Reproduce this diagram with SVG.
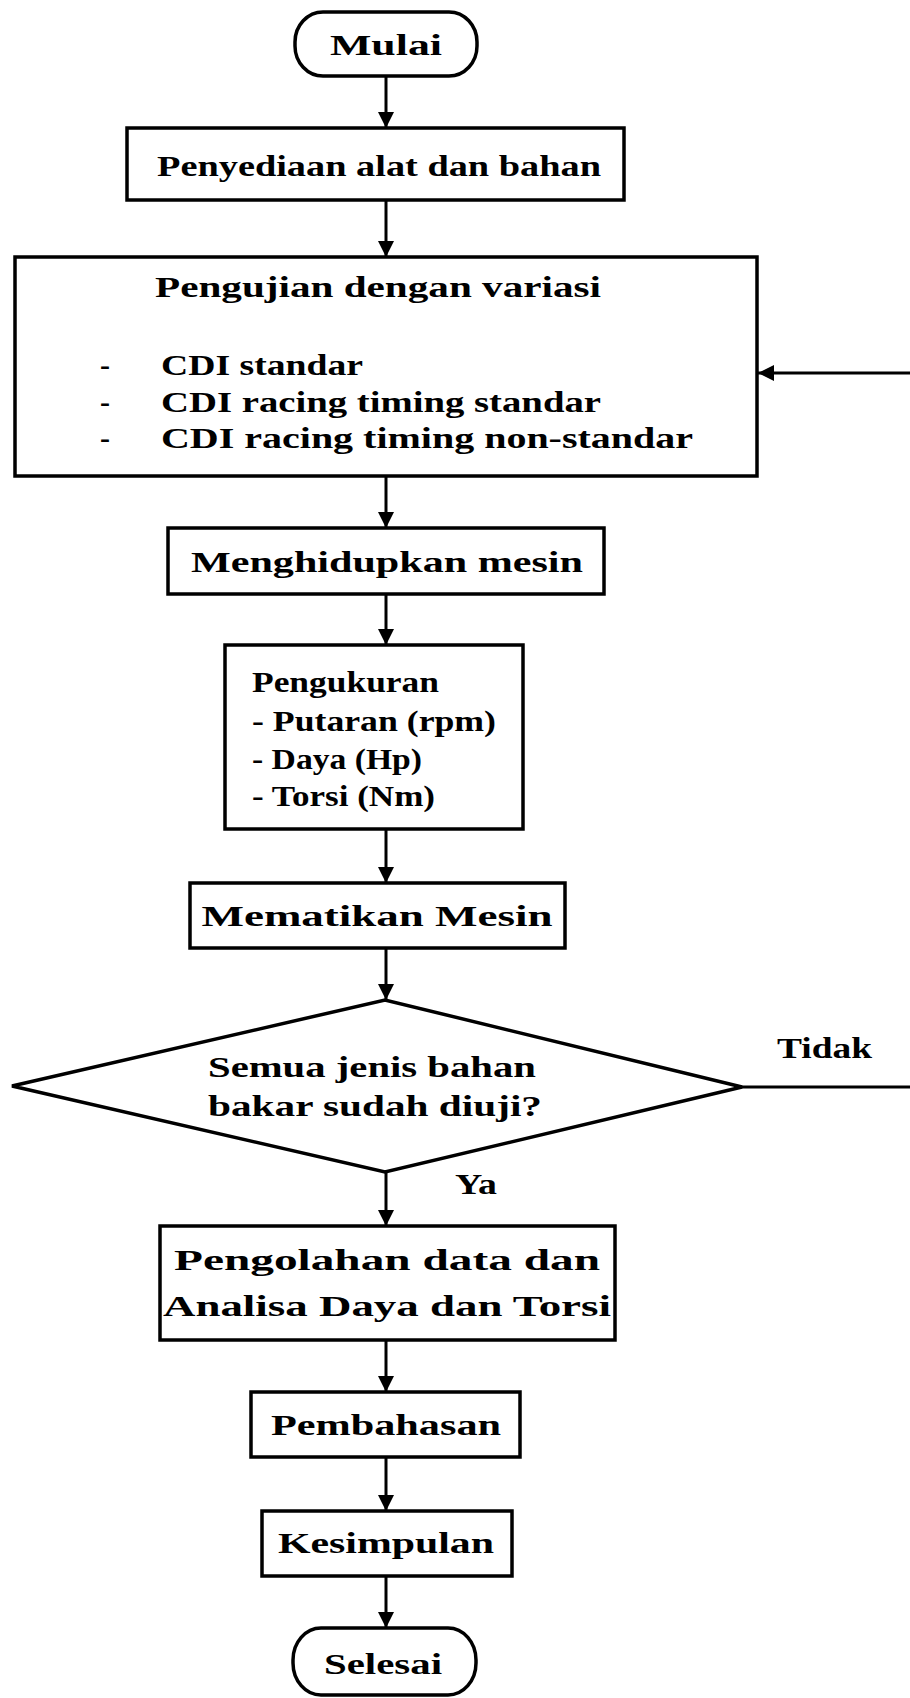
<svg xmlns="http://www.w3.org/2000/svg" width="910" height="1698" viewBox="0 0 910 1698">
<style>
.box{fill:#fff;stroke:#000;stroke-width:3.5}
.t{font-family:"Liberation Serif","Times New Roman",serif;font-weight:bold;font-size:30px;fill:#000}
.c{text-anchor:middle}
.ln{fill:none;stroke:#000;stroke-width:3}
</style>
<defs>
<marker id="ah" viewBox="0 0 10 10" refX="10" refY="5" markerWidth="16" markerHeight="16" markerUnits="userSpaceOnUse" orient="auto">
<path d="M0,0 L10,5 L0,10 z" fill="#000"/>
</marker>
</defs>
<rect x="0" y="0" width="910" height="1698" fill="#fff"/>
<g id="connectors">
<line class="ln" x1="386" y1="76" x2="386" y2="128" marker-end="url(#ah)"/>
<line class="ln" x1="386" y1="200" x2="386" y2="257" marker-end="url(#ah)"/>
<line class="ln" x1="386" y1="476" x2="386" y2="528" marker-end="url(#ah)"/>
<line class="ln" x1="386" y1="594" x2="386" y2="645" marker-end="url(#ah)"/>
<line class="ln" x1="386" y1="829" x2="386" y2="883" marker-end="url(#ah)"/>
<line class="ln" x1="386" y1="948" x2="386" y2="1000" marker-end="url(#ah)"/>
<line class="ln" x1="386" y1="1172" x2="386" y2="1226" marker-end="url(#ah)"/>
<line class="ln" x1="386" y1="1340" x2="386" y2="1392" marker-end="url(#ah)"/>
<line class="ln" x1="386" y1="1457" x2="386" y2="1511" marker-end="url(#ah)"/>
<line class="ln" x1="386" y1="1576" x2="386" y2="1628" marker-end="url(#ah)"/>
<path class="ln" d="M742,1087 H913 V373 H758" marker-end="url(#ah)"/>
<text class="t" x="777" y="1058" textLength="95" lengthAdjust="spacingAndGlyphs">Tidak</text>
<text class="t" x="455" y="1194" textLength="42" lengthAdjust="spacingAndGlyphs">Ya</text>
</g>
<g id="mulai">
<rect class="box" x="295" y="12" width="182" height="64" rx="28" ry="30"/>
<text class="t c" x="386" y="55" textLength="112" lengthAdjust="spacingAndGlyphs">Mulai</text>
</g>
<g id="penyediaan">
<rect class="box" x="127" y="128" width="497" height="72"/>
<text class="t c" x="379" y="176" textLength="444" lengthAdjust="spacingAndGlyphs">Penyediaan alat dan bahan</text>
</g>
<g id="pengujian">
<rect class="box" x="15" y="257" width="742" height="219"/>
<text class="t c" x="378" y="297" textLength="446" lengthAdjust="spacingAndGlyphs">Pengujian dengan variasi</text>
<text class="t" x="100" y="375">-</text>
<text class="t" x="100" y="412">-</text>
<text class="t" x="100" y="448">-</text>
<text class="t" x="161" y="375" textLength="202" lengthAdjust="spacingAndGlyphs">CDI standar</text>
<text class="t" x="161" y="412" textLength="440" lengthAdjust="spacingAndGlyphs">CDI racing timing standar</text>
<text class="t" x="161" y="448" textLength="532" lengthAdjust="spacingAndGlyphs">CDI racing timing non-standar</text>
</g>
<g id="menghidupkan">
<rect class="box" x="168" y="528" width="436" height="66"/>
<text class="t c" x="387" y="572" textLength="392" lengthAdjust="spacingAndGlyphs">Menghidupkan mesin</text>
</g>
<g id="pengukuran">
<rect class="box" x="225" y="645" width="298" height="184"/>
<text class="t" x="252" y="692" textLength="187" lengthAdjust="spacingAndGlyphs">Pengukuran</text>
<text class="t" x="252" y="731" textLength="244" lengthAdjust="spacingAndGlyphs">- Putaran (rpm)</text>
<text class="t" x="252" y="769" textLength="170" lengthAdjust="spacingAndGlyphs">- Daya (Hp)</text>
<text class="t" x="252" y="806" textLength="183" lengthAdjust="spacingAndGlyphs">- Torsi (Nm)</text>
</g>
<g id="mematikan">
<rect class="box" x="190" y="883" width="375" height="65"/>
<text class="t c" x="377" y="926" textLength="351" lengthAdjust="spacingAndGlyphs">Mematikan Mesin</text>
</g>
<g id="keputusan">
<polygon class="box" points="12,1086 385,1000 742,1087 385,1172"/>
<text class="t" x="208" y="1077" textLength="328" lengthAdjust="spacingAndGlyphs">Semua jenis bahan</text>
<text class="t" x="208" y="1116" textLength="334" lengthAdjust="spacingAndGlyphs">bakar sudah diuji?</text>
</g>
<g id="pengolahan">
<rect class="box" x="160" y="1226" width="455" height="114"/>
<text class="t c" x="387" y="1270" textLength="426" lengthAdjust="spacingAndGlyphs">Pengolahan data dan</text>
<text class="t c" x="387" y="1316" textLength="448" lengthAdjust="spacingAndGlyphs">Analisa Daya dan Torsi</text>
</g>
<g id="pembahasan">
<rect class="box" x="251" y="1392" width="269" height="65"/>
<text class="t c" x="386" y="1435" textLength="230" lengthAdjust="spacingAndGlyphs">Pembahasan</text>
</g>
<g id="kesimpulan">
<rect class="box" x="262" y="1511" width="250" height="65"/>
<text class="t c" x="386" y="1553" textLength="216" lengthAdjust="spacingAndGlyphs">Kesimpulan</text>
</g>
<g id="selesai">
<rect class="box" x="293" y="1628" width="183" height="67" rx="28" ry="32"/>
<text class="t c" x="383" y="1674" textLength="118" lengthAdjust="spacingAndGlyphs">Selesai</text>
</g>
</svg>
